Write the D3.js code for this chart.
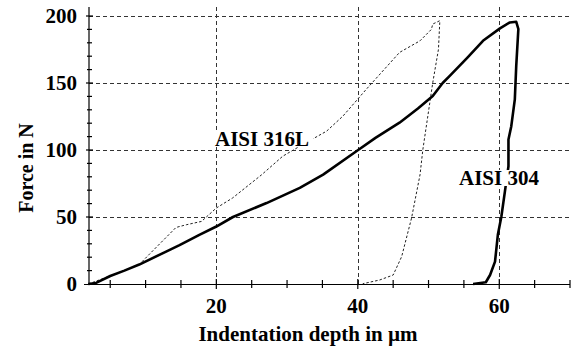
<!DOCTYPE html>
<html>
<head>
<meta charset="utf-8">
<script src="https://cdn.jsdelivr.net/npm/d3@7"></script>
</head>
<body style="margin:0">
<svg id="chart" width="571" height="349"></svg>
<script>
// Indentation curves: depth in µm, force in N (loading then unloading)
const aisi304Depth = [1.9, 3, 5, 7, 9.1, 12.9, 14.8, 17.6, 20, 22.35, 27.1, 31.8, 35.1, 39.8, 42.5, 45.9, 48.5, 50.6, 52.0, 53.0, 55.5, 57.7, 60.1, 61.5, 62.4, 62.7, 62.4, 62.2, 61.7, 61.3, 61.3, 60.8, 60.3, 59.8, 59.4, 58.7, 58.1, 56.3];
const aisi304Force = [0, 0.8, 6, 10, 14.5, 24.2, 29, 36.7, 42.9, 50, 60.4, 71.7, 81.6, 99.1, 109, 120.4, 131, 140.3, 150, 155.3, 169, 181.5, 190.8, 195.2, 195.7, 190.3, 162.8, 137.8, 117.8, 107.9, 87.9, 69.1, 50.4, 36.7, 16.7, 6.7, 1.3, 0];

const aisi316Depth = [1.9, 5, 9.1, 10.55, 14.3, 15.75, 17.9, 20, 22.3, 26.4, 29.4, 31.8, 35.6, 37.9, 41.2, 45.9, 48.8, 50.4, 50.6, 51.6, 51.4, 50.6, 49.9, 49.2, 48.8, 47.6, 46.2, 45.0, 43.1, 40.7];
const aisi316Force = [0, 6, 14.5, 22.3, 42.2, 44.2, 46.7, 56.7, 64.2, 81.5, 95.4, 102.8, 114.1, 125.3, 145.3, 172.8, 181.5, 190, 194, 196.5, 175, 150.3, 125.3, 100.4, 81.6, 49.2, 20.4, 6.7, 3, 0.2];

const xMajorTicks = [20, 40, 60];
const xMinorTicks = [5, 10, 15, 25, 30, 35, 45, 50, 55, 65, 70];
const yMajorTicks = [0, 50, 100, 150, 200];
const yMinorTicks = [10, 20, 30, 40, 60, 70, 80, 90, 110, 120, 130, 140, 160, 170, 180, 190];

const svg = d3.select("#chart");
const plotLeft = 89, plotRight = 570, plotTop = 7, plotBottom = 284;

const x = d3.scaleLinear().domain([2, 70]).range([plotLeft, plotRight]);
const y = d3.scaleLinear().domain([0, 200]).range([plotBottom, 16]);

// bold serif text helper
function label(sel, size) {
  return sel.attr("font-size", size).attr("font-weight", "bold")
    .attr("font-family", "\"Times New Roman\"")
    .style("font-family", "\"Times New Roman\"");
}

// dashed grid
const grid = svg.append("g").attr("stroke", "#333").attr("stroke-width", 1)
  .attr("stroke-dasharray", "4,3").attr("fill", "none");
grid.selectAll("line.h").data(yMajorTicks.filter(d => d > 0)).join("line")
  .attr("x1", plotLeft).attr("x2", plotRight)
  .attr("y1", d => Math.round(y(d)) + 0.5).attr("y2", d => Math.round(y(d)) + 0.5);
grid.selectAll("line.v").data(xMajorTicks).join("line")
  .attr("y1", plotTop).attr("y2", plotBottom)
  .attr("x1", d => Math.round(x(d)) + 0.5).attr("x2", d => Math.round(x(d)) + 0.5);

// axes
const axes = svg.append("g").attr("stroke", "#000").attr("stroke-width", 1.2);
axes.append("line").attr("x1", plotLeft).attr("x2", plotLeft).attr("y1", plotTop).attr("y2", plotBottom + 0.5);
axes.append("line").attr("x1", plotLeft - 5).attr("x2", plotRight).attr("y1", plotBottom + 0.5).attr("y2", plotBottom + 0.5);

axes.selectAll("line.xmaj").data(xMajorTicks).join("line")
  .attr("x1", d => x(d)).attr("x2", d => x(d)).attr("y1", plotBottom - 5).attr("y2", plotBottom + 5);
axes.selectAll("line.xmin").data(xMinorTicks).join("line")
  .attr("x1", d => x(d)).attr("x2", d => x(d)).attr("y1", plotBottom - 4).attr("y2", plotBottom + 4);
axes.selectAll("line.ymaj").data(yMajorTicks.filter(d => d > 0)).join("line")
  .attr("y1", d => y(d)).attr("y2", d => y(d)).attr("x1", plotLeft - 3).attr("x2", plotLeft + 4);
axes.selectAll("line.ymin").data(yMinorTicks).join("line")
  .attr("y1", d => y(d)).attr("y2", d => y(d)).attr("x1", plotLeft - 2).attr("x2", plotLeft + 3);

// tick labels
label(svg.append("g").selectAll("text").data(yMajorTicks).join("text"), 21)
  .attr("x", 77).attr("y", d => y(d) + 7)
  .attr("text-anchor", "end")
  .text(d => d);
label(svg.append("g").selectAll("text").data(xMajorTicks).join("text"), 21)
  .attr("x", d => x(d)).attr("y", 313)
  .attr("text-anchor", "middle")
  .text(d => d);

// axis titles
label(svg.append("text"), 21).attr("x", 308).attr("y", 341)
  .attr("text-anchor", "middle")
  .text("Indentation depth in µm");
label(svg.append("text"), 20).attr("transform", "translate(33,168) rotate(-90)")
  .attr("text-anchor", "middle")
  .text("Force in N");

// curves
const line = d3.line().x(d => x(d[0])).y(d => y(d[1])).curve(d3.curveLinear);
const s304 = d3.zip(aisi304Depth, aisi304Force);
const s316 = d3.zip(aisi316Depth, aisi316Force);

svg.append("path").datum(s316).attr("d", line)
  .attr("fill", "none").attr("stroke", "#222").attr("stroke-width", 1)
  .attr("stroke-dasharray", "2.5,2");
svg.append("path").datum(s304).attr("d", line)
  .attr("fill", "none").attr("stroke", "#000").attr("stroke-width", 2.6)
  .attr("stroke-linejoin", "round");

// series labels on a white backing so lines break around them
function seriesLabel(px, py, w, txt) {
  const g = svg.append("g");
  g.append("rect").attr("fill", "#fff")
    .attr("x", px - 1).attr("y", py - 15).attr("width", w).attr("height", 16);
  label(g.append("text"), 21).attr("x", px).attr("y", py).text(txt);
}
seriesLabel(215, 146, 99, "AISI 316L");
seriesLabel(459, 185, 84, "AISI 304");
</script>
</body>
</html>
